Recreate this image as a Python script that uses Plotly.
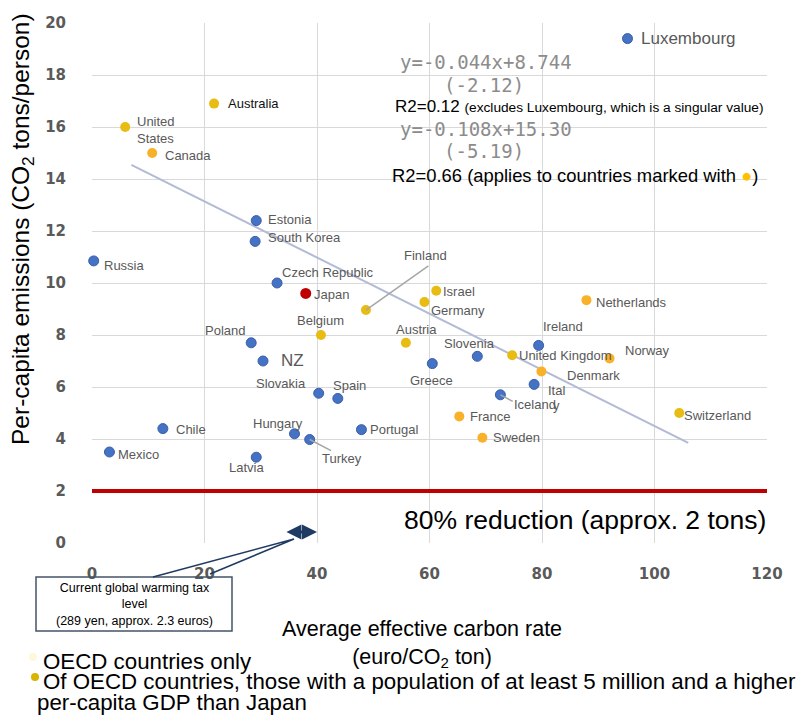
import plotly.graph_objects as go

# ---- data -----------------------------------------------------------------
countries = [
    "Luxembourg", "Estonia", "South Korea", "Russia", "Czech Republic",
    "Poland", "NZ", "Slovakia", "Spain", "Chile", "Hungary", "Turkey",
    "Portugal", "Mexico", "Latvia", "Slovenia", "Greece", "Ireland",
    "Italy", "Iceland",
]
carbon_rate = [95.2, 29.2, 29.0, 0.3, 32.9, 28.3, 30.4, 40.3, 43.7, 12.6,
               36.0, 38.7, 47.9, 3.1, 29.2, 68.5, 60.5, 79.4, 78.6, 72.6]
emissions = [19.4, 12.4, 11.6, 10.85, 10.0, 7.7, 7.0, 5.76, 5.56, 4.4,
             4.2, 3.98, 4.36, 3.5, 3.3, 7.18, 6.9, 7.6, 6.1, 5.7]

big_countries = [
    "Australia", "United States", "Canada", "Finland", "Belgium", "Austria",
    "Israel", "Germany", "Netherlands", "United Kingdom", "Norway",
    "Denmark", "France", "Sweden", "Switzerland",
]
big_rate = [21.7, 5.9, 10.7, 48.7, 40.7, 55.8, 61.2, 59.1, 87.9, 74.7,
            92.0, 79.9, 65.3, 69.4, 104.4]
big_emissions = [16.9, 16.0, 15.0, 8.96, 8.0, 7.7, 9.7, 9.27, 9.34, 7.22,
                 7.1, 6.6, 4.87, 4.05, 5.0]

japan_rate = [38.0]
japan_emissions = [9.6]

# regression over the yellow group: y = -0.108x + 15.30
slope, intercept = -0.108, 15.30
fit_x = [7.0, 106.0]

target_emissions = 2  # 80% reduction (approx. 2 tons)
tax_range = [34.3, 40.0]

x_ticks = [0, 20, 40, 60, 80, 100, 120]
y_ticks = [0, 2, 4, 6, 8, 10, 12, 14, 16, 18, 20]

# ---- label placement (pixel offsets from each marker) ---------------------
label_style = {
    # name: (text, dx, dy, anchor)
    "Luxembourg": ("Luxembourg", 11, 0, "left"),
    "Estonia": ("Estonia", 10, -1, "left"),
    "South Korea": ("South Korea", 11, -4, "left"),
    "Russia": ("Russia", 8, 5, "left"),
    "Czech Republic": ("Czech Republic", 3, -11, "left"),
    "Poland": ("Poland", -4, -12, "right"),
    "NZ": ("NZ", 16, -1, "left"),
    "Slovakia": ("Slovakia", -11, -10, "right"),
    "Spain": ("Spain", -7, -13, "left"),
    "Chile": ("Chile", 11, 1, "left"),
    "Hungary": ("Hungary", -44, -10, "left"),
    "Turkey": ("Turkey", 10, 19, "left"),
    "Portugal": ("Portugal", 7, 0, "left"),
    "Mexico": ("Mexico", 7, 2, "left"),
    "Latvia": ("Latvia", -29, 10, "left"),
    "Slovenia": ("Slovenia", -35, -13, "left"),
    "Greece": ("Greece", -24, 17, "left"),
    "Ireland": ("Ireland", 2, -19, "left"),
    "Iceland": ("Iceland", 12, 10, "left"),
    "Australia": ("Australia", 12, 0, "left"),
    "United States": ("United<br>States", 10, 3, "left"),
    "Canada": ("Canada", 11, 2, "left"),
    "Finland": ("Finland", 36, -55, "left"),
    "Belgium": ("Belgium", -26, -15, "left"),
    "Austria": ("Austria", -12, -13, "left"),
    "Israel": ("Israel", 5, 1, "left"),
    "Germany": ("Germany", 5, 9, "left"),
    "Netherlands": ("Netherlands", 8, 2, "left"),
    "United Kingdom": ("United Kingdom", 5, 0, "left"),
    "Norway": ("Norway", 13, -8, "left"),
    "Denmark": ("Denmark", 24, 4, "left"),
    "France": ("France", 9, 0, "left"),
    "Sweden": ("Sweden", 9, 0, "left"),
    "Switzerland": ("Switzerland", 3, 2, "left"),
}

BLUE = "#4472C4"
GOLD = "#E8BC12"
ORANGE = "#F8B128"
big_colors = [GOLD, GOLD, ORANGE, GOLD, GOLD, GOLD, GOLD, GOLD, ORANGE,
              GOLD, ORANGE, ORANGE, ORANGE, ORANGE, GOLD]
LABEL_GREY = "#595959"

# plot area in pixels (used for decorations outside the axes)
L, R, T, B = 92, 767, 23, 543


def paper(xp, yp):
    return (xp - L) / (R - L), (B - yp) / (B - T)


fig = go.Figure()

# trend line
fig.add_trace(go.Scatter(
    x=fit_x, y=[slope * v + intercept for v in fit_x], mode="lines",
    line=dict(color="#B3BAD6", width=2), hoverinfo="skip", showlegend=False,
))

# 80% reduction line
fig.add_trace(go.Scatter(
    x=[0, 120], y=[target_emissions, target_emissions], mode="lines",
    line=dict(color="#C00000", width=4), hoverinfo="skip", showlegend=False,
    cliponaxis=False,
))

fig.add_trace(go.Scatter(
    x=carbon_rate, y=emissions, mode="markers", text=countries,
    marker=dict(size=10, color=BLUE, line=dict(color="#3A5FA8", width=1)),
    showlegend=False, cliponaxis=False,
))
fig.add_trace(go.Scatter(
    x=big_rate, y=big_emissions, mode="markers", text=big_countries,
    marker=dict(size=10, color=big_colors, line=dict(width=0)),
    showlegend=False, cliponaxis=False,
))
fig.add_trace(go.Scatter(
    x=japan_rate, y=japan_emissions, mode="markers", text=["Japan"],
    marker=dict(size=11, color="#C00000", line=dict(width=0)),
    showlegend=False, cliponaxis=False,
))

# tax level double arrow
fig.add_annotation(x=tax_range[1], y=0.42, ax=tax_range[0], ay=0.42,
                   xref="x", yref="y", axref="x", ayref="y", text="",
                   showarrow=True, arrowhead=2, arrowside="end+start",
                   arrowsize=1, arrowwidth=3, arrowcolor="#1F3B63")

annotations = []


def add_label(x, y, name, color=LABEL_GREY, size=13):
    text, dx, dy, anchor = label_style[name]
    annotations.append(dict(
        x=x, y=y, xref="x", yref="y", text=text, showarrow=False,
        xanchor=anchor, yanchor="middle", xshift=dx, yshift=-dy,
        align="left", font=dict(family="Liberation Sans", size=size, color=color),
    ))


for name, xv, yv in zip(countries, carbon_rate, emissions):
    if name == "Italy":
        continue
    size = 17 if name in ("Luxembourg", "NZ") else 13
    add_label(xv, yv, name, size=size)
for name, xv, yv in zip(big_countries, big_rate, big_emissions):
    add_label(xv, yv, name, color="#111111" if name == "Australia" else LABEL_GREY)

# Japan
annotations.append(dict(x=japan_rate[0], y=japan_emissions[0], text="Japan",
                        showarrow=False, xanchor="left", xshift=6, yshift=-1,
                        font=dict(family="Liberation Sans", size=13, color=LABEL_GREY)))

# Italy's label wraps awkwardly
it = countries.index("Italy")
for txt, dx, dy in (("Ital", 12, 6), ("y", 17, 21)):
    annotations.append(dict(x=carbon_rate[it], y=emissions[it], text=txt,
                            showarrow=False, xanchor="left", xshift=dx, yshift=-dy,
                            font=dict(family="Liberation Sans", size=13, color=LABEL_GREY)))

# regression text block
eq_font = dict(family="DejaVu Sans Mono", size=19, color="#8C8C8C")


def ptext(xp, yp, text, font, xanchor="left", align=None):
    px_, py_ = paper(xp, yp)
    annotations.append(dict(x=px_, y=py_, xref="paper", yref="paper", text=text,
                            showarrow=False, xanchor=xanchor, yanchor="middle",
                            font=font, align=align or xanchor))


ptext(486, 62, "y=-0.044x+8.744", eq_font, "center")
ptext(484, 85, "(-2.12)", eq_font, "center")
ptext(393, 106, "R2=0.12 <span style='font-size:13.7px'>(excludes Luxembourg, which is a singular value)</span>",
      dict(family="Liberation Sans", size=17, color="#000000"))
ptext(486, 129, "y=-0.108x+15.30", eq_font, "center")
ptext(484, 151, "(-5.19)", eq_font, "center")
ptext(390, 176, "R2=0.66 (applies to countries marked with <span style='color:#FFC000'>●</span>)",
      dict(family="Liberation Sans", size=18.4, color="#000000"))

ptext(585, 520, "80% reduction (approx. 2 tons)",
      dict(family="Liberation Sans", size=26.5, color="#000000"), "center")

# axis titles
ptext(422, 644, "Average effective carbon rate<br>(euro/CO<sub>2</sub> ton)",
      dict(family="Liberation Sans", size=21.5, color="#000000"), "center")
yt = paper(22, 229)
annotations.append(dict(x=yt[0], y=yt[1], xref="paper", yref="paper",
                        text="Per-capita emissions (CO<sub>2</sub> tons/person)",
                        textangle=-90, showarrow=False, xanchor="center", yanchor="middle",
                        font=dict(family="Liberation Sans", size=24.5, color="#000000")))

# bottom notes
note_font = dict(family="Liberation Sans", size=22.3, color="#000000")
ptext(41, 661, "OECD countries only", note_font)
ptext(41, 681, "Of OECD countries, those with a population of at least 5 million and a higher",
      note_font)
ptext(35, 702, "per-capita GDP than Japan", note_font)

# callout box
ptext(134, 604, "Current global warming tax<br>level<br>(289 yen, approx. 2.3 euros)",
      dict(family="Liberation Sans", size=12.5, color="#000000"), "center")

fig.update_layout(annotations=fig.layout.annotations + tuple(annotations))

shapes = []
# callout frame and pointer
bx0, by0 = paper(36, 577)
bx1, by1 = paper(232, 631)
shapes.append(dict(type="rect", xref="paper", yref="paper", x0=bx0, y0=by0, x1=bx1, y1=by1,
                   line=dict(color="#44546A", width=1.5), fillcolor="rgba(255,255,255,0)"))
p1 = paper(153, 577)
p2 = paper(294, 539)
p3 = paper(210, 574)
shapes.append(dict(type="path", xref="paper", yref="paper",
                   path=f"M {p1[0]},{p1[1]} L {p2[0]},{p2[1]} L {p3[0]},{p3[1]}",
                   line=dict(color="#1F3B63", width=1.5)))
# legend dots
d1 = paper(35, 677)
shapes.append(dict(type="circle", xref="paper", yref="paper",
                   x0=d1[0] - 4 / 675, x1=d1[0] + 4 / 675, y0=d1[1] - 4 / 520, y1=d1[1] + 4 / 520,
                   fillcolor="#D9B400", line=dict(width=0)))
d2 = paper(33, 657)
shapes.append(dict(type="circle", xref="paper", yref="paper",
                   x0=d2[0] - 4 / 675, x1=d2[0] + 4 / 675, y0=d2[1] - 4 / 520, y1=d2[1] + 4 / 520,
                   fillcolor="#FFF7DA", line=dict(width=0)))

# leader lines
fi = big_countries.index("Finland")
shapes.append(dict(type="line", xref="x", yref="y", x0=big_rate[fi], y0=big_emissions[fi],
                   x1=59.8, y1=10.66, line=dict(color="#A6A6A6", width=1.5)))
tu = countries.index("Turkey")
shapes.append(dict(type="line", xref="x", yref="y", x0=carbon_rate[tu], y0=emissions[tu],
                   x1=42.5, y1=3.55, line=dict(color="#A6A6A6", width=1.5)))
ic = countries.index("Iceland")
shapes.append(dict(type="line", xref="x", yref="y", x0=carbon_rate[ic], y0=emissions[ic],
                   x1=74.8, y1=5.45, line=dict(color="#A6A6A6", width=1.5)))

fig.update_layout(shapes=shapes)

tick_font = dict(family="DejaVu Sans", size=15, color="#5A5A5A", weight="bold")
fig.update_xaxes(range=[0, 120], tickvals=x_ticks, showgrid=True, gridcolor="#D9D9D9",
                 gridwidth=1, zeroline=False, showline=False, tickfont=tick_font,
                 ticks="outside", ticklen=0, ticklabelstandoff=17)
fig.update_yaxes(range=[0, 20], tickvals=y_ticks, showgrid=True, gridcolor="#D9D9D9",
                 gridwidth=1, zeroline=False, showline=False, tickfont=tick_font,
                 ticks="outside", ticklen=0, ticklabelstandoff=22)

fig.update_layout(
    width=808, height=725,
    margin=dict(l=L, r=808 - R, t=T, b=725 - B),
    plot_bgcolor="white", paper_bgcolor="white",
    showlegend=False,
)

fig.write_html("out.html")
